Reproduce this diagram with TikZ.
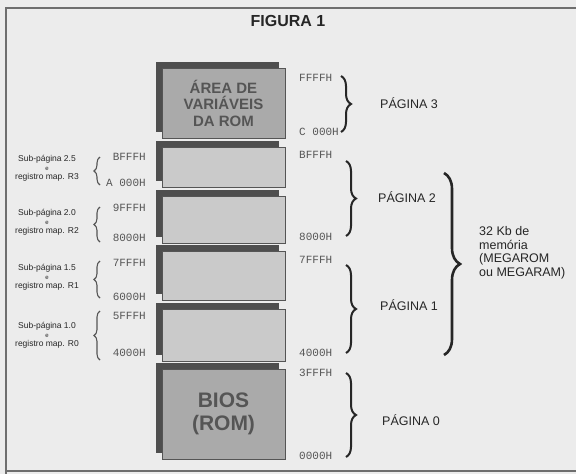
\documentclass[tikz,border=0pt]{standalone}
\usepackage{fontspec}
\setmainfont{Liberation Sans}
\newfontfamily\addrfont{Liberation Mono}
\usetikzlibrary{decorations.pathreplacing,shadows}
\definecolor{paper}{HTML}{ECECEC}
\definecolor{frame}{HTML}{6E6E6E}
\definecolor{shade}{HTML}{4E4E4E}
\definecolor{cell}{HTML}{CACACA}
\definecolor{romcell}{HTML}{AAAAAA}
\definecolor{ink}{HTML}{262626}
\definecolor{softink}{HTML}{555555}

\begin{document}
\begin{tikzpicture}[
  x=1pt, y=-1pt,
  block/.style={draw=softink, line width=0.4pt, fill=cell, minimum width=123pt, inner sep=0pt,
    align=center, text=softink, font=\bfseries\fontsize{15}{16.5}\selectfont,
    drop shadow={shadow xshift=-6pt, shadow yshift=6pt, fill=shade, opacity=1}},
  addr/.style={font=\addrfont\fontsize{11}{12}\selectfont, text=softink, inner sep=0pt},
  page/.style={font=\fontsize{12.5}{14}\selectfont, text=ink, anchor=west, inner sep=0pt},
  sub/.style={font=\fontsize{8.5}{9}\selectfont, align=center, text=ink, inner sep=0pt},
  brace/.style={decorate, decoration={brace, amplitude=10pt}, line width=2pt, draw=ink},
  lbrace/.style={decorate, decoration={brace, amplitude=6pt}, line width=1.1pt, draw=softink}
]
\useasboundingbox[fill=paper] (0,0) rectangle (576,474);
% frame
\draw[frame, line width=1.2pt] (6,474) -- (6,8) -- (576,8);
\draw[frame, line width=1.2pt] (6,471) -- (576,471);

\node[font=\bfseries\fontsize{16}{18}\selectfont, text=ink] (title) at (288,21) {FIGURA 1};

% memory blocks
\node[block, fill=romcell, minimum height=70pt] (romvars) at (223.5,103) {ÁREA DE\\VARIÁVEIS\\DA ROM};
\node[block, minimum height=40pt] (sub25) at (223.5,167) {};
\node[block, minimum height=47pt] (sub20) at (223.5,219.5) {};
\node[block, minimum height=49pt] (sub15) at (223.5,275.5) {};
\node[block, minimum height=52pt] (sub10) at (223.5,335) {};
\node[block, fill=romcell, minimum height=90pt, font=\bfseries\fontsize{21}{23}\selectfont] (bios) at (223.5,414) {BIOS\\(ROM)};

% right addresses
\node[addr, anchor=west] (rFFFF) at (299,78) {FFFFH};
\node[addr, anchor=west] (rC000) at (299,132) {C 000H};
\node[addr, anchor=west] (rBFFF) at (299,155) {BFFFH};
\node[addr, anchor=west] (r8000) at (299,237) {8000H};
\node[addr, anchor=west] (r7FFF) at (299,260) {7FFFH};
\node[addr, anchor=west] (r4000) at (299,353) {4000H};
\node[addr, anchor=west] (r3FFF) at (299,373) {3FFFH};
\node[addr, anchor=west] (r0000) at (299,456) {0000H};

% left addresses
\node[addr, anchor=east] (lBFFF) at (146,157) {BFFFH};
\node[addr, anchor=east] (lA000) at (146,183) {A 000H};
\node[addr, anchor=east] (l9FFF) at (146,208) {9FFFH};
\node[addr, anchor=east] (l8000) at (146,238) {8000H};
\node[addr, anchor=east] (l7FFF) at (146,263) {7FFFH};
\node[addr, anchor=east] (l6000) at (146,297) {6000H};
\node[addr, anchor=east] (l5FFF) at (146,316) {5FFFH};
\node[addr, anchor=east] (l4000) at (146,353) {4000H};

% brace ends
\coordinate (p3top) at (341,76);  \coordinate (p3bot) at (341,132);
\coordinate (p2top) at (346,161); \coordinate (p2bot) at (346,236);
\coordinate (p1top) at (346,265); \coordinate (p1bot) at (346,353);
\coordinate (p0top) at (346,373); \coordinate (p0bot) at (346,457);
\coordinate (kbtop) at (444,173); \coordinate (kbbot) at (444,355);
\coordinate (s25top) at (100,157); \coordinate (s25bot) at (100,185);
\coordinate (s20top) at (100,207); \coordinate (s20bot) at (100,242);
\coordinate (s15top) at (100,261); \coordinate (s15bot) at (100,298);
\coordinate (s10top) at (100,311); \coordinate (s10bot) at (100,360);

\draw[brace] (p3top) -- (p3bot);
\draw[brace] (p2top) -- (p2bot);
\draw[brace] (p1top) -- (p1bot);
\draw[brace] (p0top) -- (p0bot);
\draw[brace, decoration={amplitude=16pt}, line width=2.6pt] (kbtop) -- (kbbot);
\draw[lbrace] (s25bot) -- (s25top);
\draw[lbrace] (s20bot) -- (s20top);
\draw[lbrace] (s15bot) -- (s15top);
\draw[lbrace] (s10bot) -- (s10top);

% page labels
\node[page] (pag3) at (380,103) {PÁGINA 3};
\node[page] (pag2) at (378,197) {PÁGINA 2};
\node[page] (pag1) at (380,305) {PÁGINA 1};
\node[page] (pag0) at (382,420) {PÁGINA 0};
\node[page, align=left, font=\fontsize{12.5}{13.5}\selectfont] (kb) at (479,253) {32 Kb de\\memória\\(MEGAROM\\ou MEGARAM)};

% sub-page labels
\node[sub] (lab25) at (47,168) {Sub-página 2.5\\{\fontsize{6}{6}\selectfont e}\\registro map. R3};
\node[sub] (lab20) at (47,222) {Sub-página 2.0\\{\fontsize{6}{6}\selectfont e}\\registro map. R2};
\node[sub] (lab15) at (47,277) {Sub-página 1.5\\{\fontsize{6}{6}\selectfont e}\\registro map. R1};
\node[sub] (lab10) at (47,335) {Sub-página 1.0\\{\fontsize{6}{6}\selectfont e}\\registro map. R0};
\end{tikzpicture}
\end{document}
